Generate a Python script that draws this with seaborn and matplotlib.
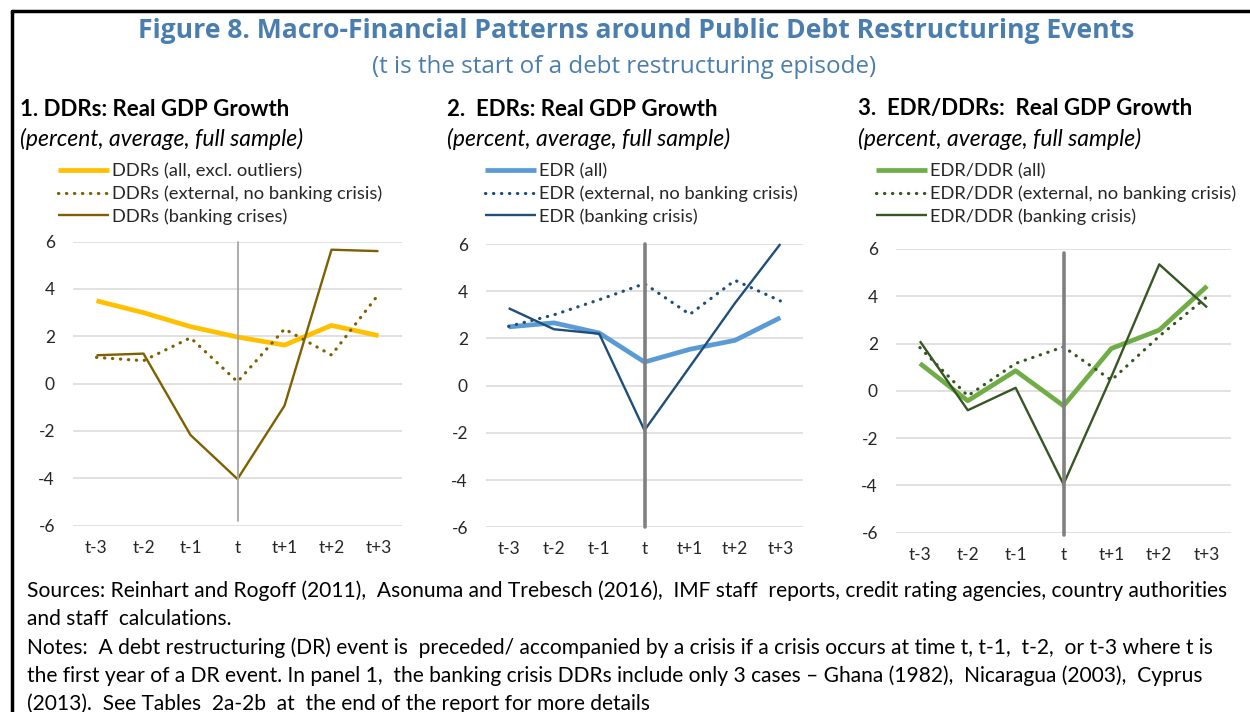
import numpy as np
import pandas as pd
import seaborn as sns
import matplotlib.pyplot as plt
from matplotlib.lines import Line2D

# periods around the restructuring event
periods = ["t-3", "t-2", "t-1", "t", "t+1", "t+2", "t+3"]
event = "t"

# panel 1: DDRs
ddr_all = [3.50, 3.00, 2.41, 1.97, 1.63, 2.46, 2.03]
ddr_ext = [1.11, 0.97, 1.94, 0.08, 2.31, 1.21, 3.77]
ddr_bank = [1.20, 1.27, -2.17, -4.03, -0.93, 5.66, 5.60]

# panel 2: EDRs
edr_all = [2.49, 2.66, 2.23, 1.00, 1.54, 1.92, 2.88]
edr_ext = [2.51, 3.00, 3.64, 4.32, 3.02, 4.46, 3.59]
edr_bank = [3.28, 2.39, 2.20, -1.89, 0.80, 3.50, 6.00]

# panel 3: EDR/DDRs
mix_all = [1.16, -0.42, 0.85, -0.63, 1.79, 2.57, 4.43]
mix_ext = [1.83, -0.21, 1.16, 1.86, 0.45, 2.31, 3.98]
mix_bank = [2.10, -0.82, 0.13, -3.95, 0.60, 5.35, 3.53]

# extent of the vertical marker at t for each panel
vline_span = [(-5.8, 6.0), (-6.0, 6.0), (-6.1, 5.85)]

sns.set_style("white")
plt.rcParams["font.family"] = ["Lato", "DejaVu Sans"]
plt.rcParams["axes.unicode_minus"] = False

fig = plt.figure(figsize=(12.5, 7.12), dpi=100)

panels = [
    dict(rect=[0.0584, 0.2617, 0.2632, 0.3989],
         title="1. DDRs: Real GDP Growth", tx=20,
         series=[(ddr_all, "DDRs (all, excl. outliers)"),
                 (ddr_ext, "DDRs (external, no banking crisis)"),
                 (ddr_bank, "DDRs (banking crises)")],
         colors=["#FFC000", "#7F6000", "#7F6000"],
         vl_color="#A6A6A6", vl_lw=1.3, lx=58),
    dict(rect=[0.3888, 0.2594, 0.2536, 0.3979],
         title="2.  EDRs: Real GDP Growth", tx=447,
         series=[(edr_all, "EDR (all)"),
                 (edr_ext, "EDR (external, no banking crisis)"),
                 (edr_bank, "EDR (banking crisis)")],
         colors=["#5B9BD5", "#1F4E79", "#1F4E79"],
         vl_color="#808080", vl_lw=2.6, lx=485),
    dict(rect=[0.7168, 0.2518, 0.2680, 0.3985],
         title="3.  EDR/DDRs:  Real GDP Growth", tx=858,
         series=[(mix_all, "EDR/DDR (all)"),
                 (mix_ext, "EDR/DDR (external, no banking crisis)"),
                 (mix_bank, "EDR/DDR (banking crisis)")],
         colors=["#70AD47", "#375623", "#375623"],
         vl_color="#808080", vl_lw=2.6, lx=876),
]

x = np.arange(len(periods))
styles = [dict(lw=3.4, ls="-"),
          dict(lw=2.3, ls=(0, (0.1, 2.4)), dash_capstyle="round"),
          dict(lw=1.7, ls="-")]

W, H = 1250, 712
for i, p in enumerate(panels):
    ax = fig.add_axes(p["rect"])
    for (vals, lab), col, st in zip(p["series"], p["colors"], styles):
        df = pd.DataFrame({"x": x, "y": vals})
        sns.lineplot(data=df, x="x", y="y", ax=ax, color=col, label=lab,
                     linewidth=st["lw"], linestyle=st["ls"],
                     dash_capstyle=st.get("dash_capstyle", "butt"),
                     solid_capstyle="butt", clip_on=False)
    ei = periods.index(event)
    lo, hi = vline_span[i]
    ax.plot([ei, ei], [lo, hi], color=p["vl_color"], lw=p["vl_lw"],
            zorder=5, clip_on=False)
    ax.set_xlim(-0.5, len(periods) - 0.5)
    ax.set_ylim(-6, 6)
    ax.set_yticks(np.arange(-6, 7, 2))
    ax.set_xticks(x)
    ax.set_xticklabels(periods)
    ax.set_xlabel("")
    ax.set_ylabel("")
    ax.grid(axis="y", color="#D9D9D9", lw=1.1)
    ax.set_axisbelow(True)
    for s in ax.spines.values():
        s.set_visible(False)
    ax.tick_params(axis="y", length=0, pad=13, labelsize=12.5, labelcolor="#262626")
    ax.tick_params(axis="x", length=0, pad=10, labelsize=12.5, labelcolor="#262626")
    ax.legend(loc="upper left", bbox_to_anchor=(p["lx"] / W, 1 - 163 / H),
              bbox_transform=fig.transFigure, frameon=False, fontsize=13.2,
              handlelength=2.8, handletextpad=0.12, labelspacing=0.34,
              borderpad=0, borderaxespad=0)
    fig.text(p["tx"] / W, 1 - 109 / H, p["title"], fontsize=16, fontweight="bold",
             va="center", ha="left", color="black")
    fig.text(p["tx"] / W, 1 - 139 / H, "(percent, average, full sample)",
             fontsize=16.5, style="italic", va="center", ha="left", color="black")

title_blue = "#4A7EAE"
fig.text(636 / W, 1 - 31 / H,
         "Figure 8. Macro-Financial Patterns around Public Debt Restructuring Events",
         fontsize=19.1, fontweight="bold", color=title_blue, ha="center", va="center",
         family=["Open Sans", "DejaVu Sans"])
fig.text(624 / W, 1 - 67 / H, "(t is the start of a debt restructuring episode)",
         fontsize=17.4, color=title_blue, ha="center", va="center",
         family=["Open Sans", "DejaVu Sans"])

notes = [
    "Sources: Reinhart and Rogoff (2011),  Asonuma and Trebesch (2016),  IMF staff  reports, credit rating agencies, country authorities",
    "and staff  calculations.",
    "Notes:  A debt restructuring (DR) event is  preceded/ accompanied by a crisis if a crisis occurs at time t, t-1,  t-2,  or t-3 where t is",
    "the first year of a DR event. In panel 1,  the banking crisis DDRs include only 3 cases \u2013 Ghana (1982),  Nicaragua (2003),  Cyprus",
    "(2013).  See Tables  2a-2b  at  the end of the report for more details",
]
for k, line in enumerate(notes):
    fig.text(27 / W, 1 - (591 + 28.3 * k) / H, line, fontsize=15.1,
             ha="left", va="center", color="black")

# outer frame (top and left edges visible)
fig.add_artist(Line2D([12 / W, 1], [1 - 11 / H, 1 - 11 / H], color="black",
                      lw=2.5, transform=fig.transFigure))
fig.add_artist(Line2D([12 / W, 12 / W], [0, 1 - 11 / H], color="black",
                      lw=2.5, transform=fig.transFigure))

fig.savefig("out.png", dpi=100)
